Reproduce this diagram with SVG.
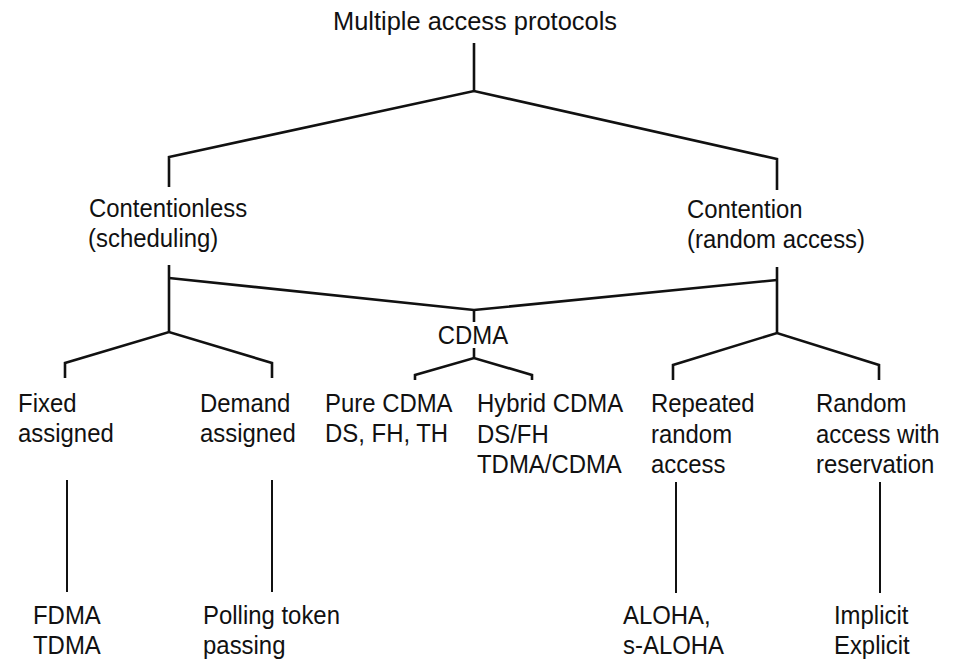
<svg xmlns="http://www.w3.org/2000/svg" width="959" height="661" viewBox="0 0 959 661">
<style>
text{font-family:"Liberation Sans",Arial,sans-serif;font-size:26px;fill:#111}
.c line,.c polyline{stroke:#111;stroke-width:2.6;fill:none;stroke-linejoin:miter}
.c .thin{stroke-width:2}
</style>
<rect width="959" height="661" fill="#fff"/>
<g id="connectors" class="c">
<line x1="474" y1="43" x2="474" y2="91"/>
<polyline points="169,187 169,157 474,91 777,159 777,190"/>
<line x1="169" y1="265" x2="169" y2="332"/>
<line x1="777" y1="267" x2="777" y2="333"/>
<polyline points="169,278 474,310 777,280"/>
<line x1="474" y1="310" x2="474" y2="322"/>
<line x1="474" y1="348" x2="474" y2="358"/>
<polyline points="415,380 415,375 474,358 532,375 532,380"/>
<polyline points="65,378 65,363 169,332 272,363 272,378"/>
<polyline points="673,380 673,365 777,333 879,365 879,380"/>
<line class="thin" x1="67" y1="480" x2="67" y2="592"/>
<line class="thin" x1="272" y1="480" x2="272" y2="592"/>
<line class="thin" x1="676" y1="482" x2="676" y2="593"/>
<line class="thin" x1="880" y1="482" x2="880" y2="593"/>
</g>
<g id="root"><text x="475" y="30" text-anchor="middle" textLength="284" lengthAdjust="spacingAndGlyphs">Multiple access protocols</text></g>
<g transform="scale(0.92 1)">
<g id="contentionless"><text x="96.7" y="217">Contentionless</text><text x="95.7" y="247">(scheduling)</text></g>
<g id="contention"><text x="746.7" y="218">Contention</text><text x="746.7" y="248">(random access)</text></g>
<g id="cdma"><text x="514.1" y="344" text-anchor="middle">CDMA</text></g>
<g id="fixed"><text x="19.6" y="412">Fixed</text><text x="19.6" y="442">assigned</text></g>
<g id="demand"><text x="217.4" y="412">Demand</text><text x="217.4" y="442">assigned</text></g>
<g id="pure"><text x="353.3" y="412">Pure CDMA</text><text x="353.3" y="442">DS, FH, TH</text></g>
<g id="hybrid"><text x="518.5" y="412">Hybrid CDMA</text><text x="518.5" y="443">DS/FH</text><text x="518.5" y="473">TDMA/CDMA</text></g>
<g id="repeated"><text x="707.6" y="412">Repeated</text><text x="707.6" y="443">random</text><text x="707.6" y="473">access</text></g>
<g id="reservation"><text x="887" y="412">Random</text><text x="887" y="443">access with</text><text x="887" y="473">reservation</text></g>
<g id="fdma"><text x="35.9" y="624">FDMA</text><text x="35.9" y="654">TDMA</text></g>
<g id="polling"><text x="220.7" y="624">Polling token</text><text x="220.7" y="654">passing</text></g>
<g id="aloha"><text x="677.2" y="624">ALOHA,</text><text x="677.2" y="654">s-ALOHA</text></g>
<g id="implicit"><text x="906.5" y="624">Implicit</text><text x="906.5" y="654">Explicit</text></g>
</g>
</svg>
